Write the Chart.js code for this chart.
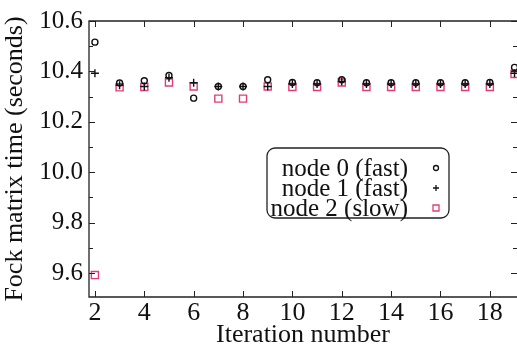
<!DOCTYPE html>
<html>
<head>
<meta charset="utf-8">
<script src="https://cdn.jsdelivr.net/npm/chart.js@4/dist/chart.umd.min.js"></script>
<style>
html, body { margin: 0; padding: 0; background: #fff; }
#wrap { width: 517px; height: 347px; }
</style>
</head>
<body>
<div id="wrap"><canvas id="chart" width="517" height="347"></canvas></div>
<script>
// iteration numbers
var iters = [2, 3, 4, 5, 6, 7, 8, 9, 10, 11, 12, 13, 14, 15, 16, 17, 18, 19];
// Fock matrix time per node (seconds)
var node0 = [10.516, 10.354, 10.363, 10.384, 10.294, 10.340, 10.340, 10.367, 10.356, 10.355, 10.367, 10.355, 10.355, 10.355, 10.355, 10.355, 10.356, 10.416];
var node1 = [10.393, 10.345, 10.340, 10.375, 10.355, 10.340, 10.340, 10.340, 10.350, 10.350, 10.360, 10.350, 10.350, 10.350, 10.350, 10.350, 10.350, 10.393];
var node2 = [9.592, 10.337, 10.338, 10.356, 10.340, 10.292, 10.292, 10.340, 10.338, 10.338, 10.356, 10.338, 10.338, 10.338, 10.338, 10.338, 10.338, 10.390];
var seriesNames = ["node 0 (fast)", "node 1 (fast)", "node 2 (slow)"];
// tick values
var xTicks = [2, 4, 6, 8, 10, 12, 14, 16, 18];
var yTicks = [9.6, 9.8, 10.0, 10.2, 10.4, 10.6];
var yMinor = [9.7, 9.9, 10.1, 10.3, 10.5];

var serif = "'Liberation Serif', 'DejaVu Serif', serif";
var pink = "#e23c78";

function pts(ys) {
	var out = [];
	for (var i = 0; i < iters.length; i++) {
		out.push({x: iters[i], y: ys[i]});
	}
	return out;
}

// draws one legend marker, outline only
function legendMark(ctx, style, color, x, y) {
	ctx.strokeStyle = color;
	ctx.lineWidth = 1.3;
	ctx.beginPath();
	if (style === 'circle') {
		ctx.arc(x, y, 2.5, 0, Math.PI * 2);
	} else if (style === 'cross') {
		ctx.moveTo(x, y - 3); ctx.lineTo(x, y + 3);
		ctx.moveTo(x - 3, y); ctx.lineTo(x + 3, y);
	} else {
		ctx.rect(x - 3, y - 3, 6, 6);
	}
	ctx.stroke();
}

// frame, inward ticks and legend box
var framePlugin = {
	id: 'frame',
	afterDatasetsDraw: function(chart) {
		var ctx = chart.ctx;
		var a = chart.chartArea;
		var xs = chart.scales.x, ys = chart.scales.y;
		ctx.save();
		ctx.strokeStyle = "#222";
		ctx.lineWidth = 1.3;
		ctx.beginPath();
		ctx.moveTo(a.right + 2, a.top);
		ctx.lineTo(a.left, a.top);
		ctx.lineTo(a.left, a.bottom);
		ctx.lineTo(a.right + 2, a.bottom);
		ctx.stroke();
		ctx.lineWidth = 1;
		ctx.beginPath();
		for (var i = 0; i < xTicks.length; i++) {
			var px = Math.round(xs.getPixelForValue(xTicks[i])) + 0.5;
			ctx.moveTo(px, a.bottom); ctx.lineTo(px, a.bottom - 6);
			ctx.moveTo(px, a.top); ctx.lineTo(px, a.top + 6);
		}
		for (var j = 0; j < yTicks.length; j++) {
			var py = Math.round(ys.getPixelForValue(yTicks[j])) + 0.5;
			ctx.moveTo(a.left, py); ctx.lineTo(a.left + 6, py);
			ctx.moveTo(a.right, py); ctx.lineTo(a.right - 6, py);
		}
		for (var k = 0; k < yMinor.length; k++) {
			var qy = Math.round(ys.getPixelForValue(yMinor[k])) + 0.5;
			ctx.moveTo(a.left, qy); ctx.lineTo(a.left + 4, qy);
			ctx.moveTo(a.right, qy); ctx.lineTo(a.right - 4, qy);
		}
		ctx.stroke();

		// legend
		var bx = 267, by = 148, bw = 182, bh = 70, r = 8;
		ctx.lineWidth = 1.3;
		ctx.beginPath();
		ctx.moveTo(bx + r, by);
		ctx.arcTo(bx + bw, by, bx + bw, by + bh, r);
		ctx.arcTo(bx + bw, by + bh, bx, by + bh, r);
		ctx.arcTo(bx, by + bh, bx, by, r);
		ctx.arcTo(bx, by, bx + bw, by, r);
		ctx.closePath();
		ctx.fillStyle = "#fff";
		ctx.fill();
		ctx.stroke();
		ctx.fillStyle = "#111";
		ctx.font = "25px " + serif;
		ctx.textAlign = "right";
		ctx.textBaseline = "middle";
		var rows = [168, 188, 208];
		for (var n = 0; n < seriesNames.length; n++) {
			ctx.fillText(seriesNames[n], 408, rows[n] + 1);
			var ds = chart.data.datasets[n];
			legendMark(ctx, ds.pointStyle, ds.borderColor, 436, rows[n]);
		}
		ctx.restore();
	}
};

var config = {
	type: 'scatter',
	data: {
		datasets: [{
			label: seriesNames[0],
			data: pts(node0),
			pointStyle: 'circle',
			pointRadius: 3,
			borderWidth: 1.4,
			borderColor: "#111",
			backgroundColor: "rgba(0,0,0,0)"
		},
		{
			label: seriesNames[1],
			data: pts(node1),
			pointStyle: 'cross',
			pointRadius: 4,
			borderWidth: 1.4,
			borderColor: "#111",
			backgroundColor: "#111"
		},
		{
			label: seriesNames[2],
			data: pts(node2),
			pointStyle: 'rect',
			pointRadius: 5,
			borderWidth: 1.4,
			borderColor: pink,
			backgroundColor: "rgba(0,0,0,0)"
		}]
	},
	options: {
		responsive: false,
		animation: false,
		layout: { padding: { top: 19, right: 0, left: 0, bottom: 0 }, autoPadding: false },
		plugins: { legend: { display: false }, tooltip: { enabled: false } },
		scales: {
			x: {
				type: 'linear',
				min: 1.76,
				max: 19.1,
				afterBuildTicks: function(scale) {
					scale.ticks = xTicks.map(function(v) { return {value: v}; });
				},
				afterFit: function(scale) { scale.height = 50; },
				grid: { display: false, drawTicks: false },
				border: { display: false },
				ticks: { color: "#111", font: { family: serif, size: 26 }, padding: 1, maxRotation: 0, autoSkip: false },
				title: { display: true, text: "Iteration number", color: "#111", font: { family: serif, size: 26, lineHeight: 1 }, padding: { top: 0, bottom: -1 } }
			},
			y: {
				type: 'linear',
				min: 9.505,
				max: 10.6,
				afterBuildTicks: function(scale) {
					scale.ticks = yTicks.map(function(v) { return {value: v}; });
				},
				afterFit: function(scale) { scale.width = 89; },
				grid: { display: false, drawTicks: false },
				border: { display: false },
				ticks: {
					color: "#111", font: { family: serif, size: 25 }, padding: 6, autoSkip: false,
					callback: function(v) { return Number(v).toFixed(1); }
				},
				title: { display: true, text: "Fock matrix time (seconds)", color: "#111", font: { family: serif, size: 26 }, padding: { top: 0, bottom: 0 } }
			}
		}
	},
	plugins: [framePlugin]
};

var ctx = document.getElementById('chart').getContext('2d');
window.myChart = new Chart(ctx, config);
</script>
</body>
</html>
